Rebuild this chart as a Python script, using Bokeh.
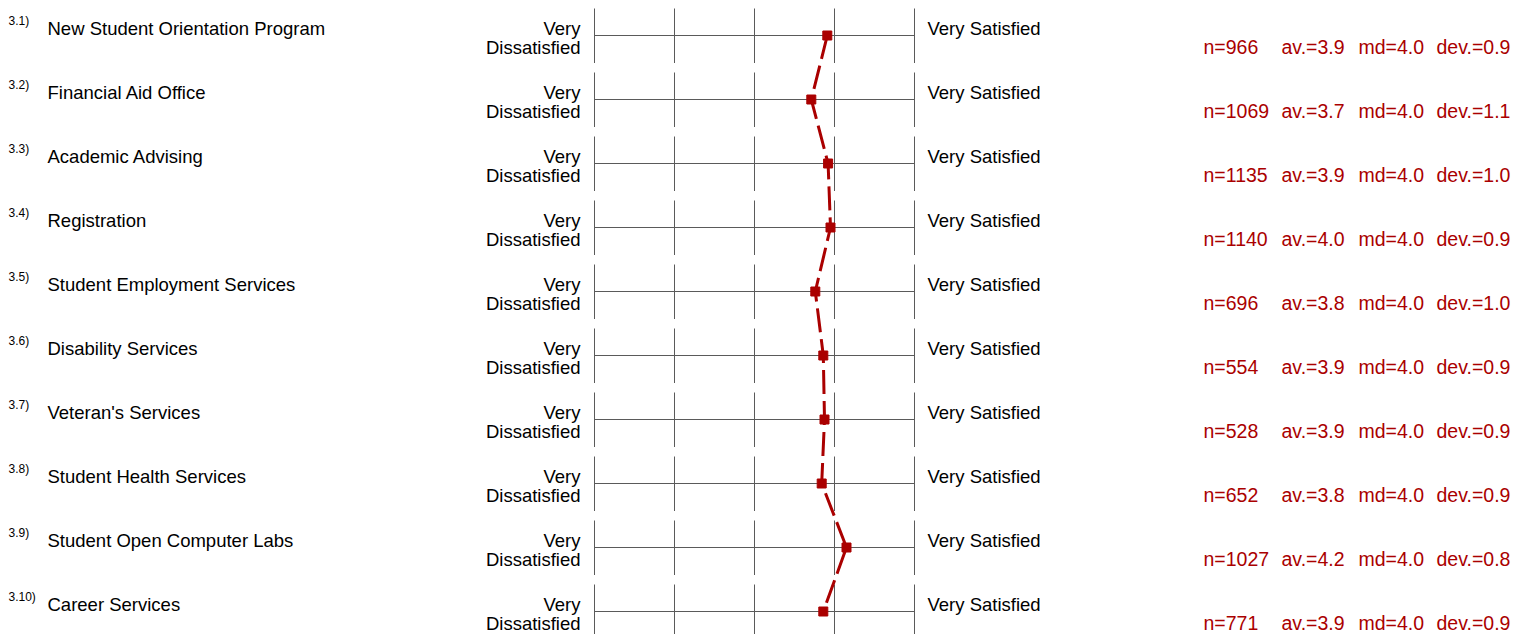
from bokeh.plotting import figure
from bokeh.models import Range1d
from bokeh.embed import file_html
from bokeh.resources import INLINE
from bokeh.core.properties import value

# ---------------- data ----------------
numbers = ["3.1)", "3.2)", "3.3)", "3.4)", "3.5)", "3.6)", "3.7)", "3.8)", "3.9)", "3.10)"]
questions = [
    "New Student Orientation Program",
    "Financial Aid Office",
    "Academic Advising",
    "Registration",
    "Student Employment Services",
    "Disability Services",
    "Veteran's Services",
    "Student Health Services",
    "Student Open Computer Labs",
    "Career Services",
]
left_pole = ["Very", "Dissatisfied"]
right_pole = "Very Satisfied"
scale_points = [1, 2, 3, 4, 5]
mean_positions = [3.91, 3.71, 3.92, 3.95, 3.76, 3.86, 3.875, 3.84, 4.15, 3.86]
n_values = [966, 1069, 1135, 1140, 696, 554, 528, 652, 1027, 771]
av_values = [3.9, 3.7, 3.9, 4.0, 3.8, 3.9, 3.9, 3.8, 4.2, 3.9]
md_values = [4.0, 4.0, 4.0, 4.0, 4.0, 4.0, 4.0, 4.0, 4.0, 4.0]
dev_values = [0.9, 1.1, 1.0, 0.9, 1.0, 0.9, 0.9, 0.9, 0.8, 0.9]

# ---------------- layout helpers ----------------
W, H = 1524, 634
PX_PER_UNIT = 80.0      # pixels per scale step
X1_PX = 594.0           # x of scale point 1
ROW_H = 64.0
ROW0_PX = 35.0          # y of first row centre


def px2x(px):
    return 1 + (px - X1_PX) / PX_PER_UNIT


def dy(py):
    return py / ROW_H


rows = list(range(len(questions)))
FONT = value("Liberation Sans")
RED = "#aa0000"

p = figure(
    width=W, height=H,
    x_range=Range1d(px2x(0), px2x(W)),
    y_range=Range1d((H - ROW0_PX) / ROW_H, (0 - ROW0_PX) / ROW_H),
    output_backend="svg", toolbar_location=None, min_border=0,
)
p.axis.visible = False
p.grid.visible = False
p.outline_line_color = None
p.background_fill_color = "white"
p.border_fill_color = "white"

# grid: vertical ticks per row and horizontal scale line
vx, vy0, vy1 = [], [], []
for i in rows:
    for s in scale_points:
        vx.append(s)
        vy0.append(i - dy(27))
        vy1.append(i + dy(27.5))
p.segment(x0=vx, y0=vy0, x1=vx, y1=vy1, line_color="#5a5a5a", line_width=1)
p.segment(x0=[scale_points[0]] * len(rows), y0=rows,
          x1=[scale_points[-1]] * len(rows), y1=rows,
          line_color="#5a5a5a", line_width=1)

# profile line
p.line(x=mean_positions, y=rows, line_color=RED, line_width=3, line_dash="24 7")
p.scatter(x=mean_positions, y=rows, marker="square", size=9,
          fill_color=RED, line_color=RED)

# texts
def add_text(xs, ys, texts, size, color="#000000", align="left"):
    p.text(x=xs, y=ys, text=texts, text_font=FONT, text_font_size=size,
           text_color=color, text_align=align, text_baseline="alphabetic")

SH = 7  # vertical correction (px upward)
add_text([px2x(8)] * len(rows), [i - dy(8 + SH) for i in rows], numbers, "12px")
add_text([px2x(47)] * len(rows), [i - dy(0.5 + SH) for i in rows], questions, "18.5px")
add_text([px2x(580)] * len(rows), [i - dy(0.5 + SH) for i in rows], [left_pole[0]] * len(rows), "18.5px", align="right")
add_text([px2x(580)] * len(rows), [i + dy(18.5 - SH) for i in rows], [left_pole[1]] * len(rows), "18.5px", align="right")
add_text([px2x(927)] * len(rows), [i - dy(0.5 + SH) for i in rows], [right_pole] * len(rows), "18.5px")

stat_y = [i + dy(18 - SH) for i in rows]
add_text([px2x(1203)] * len(rows), stat_y, [f"n={n}" for n in n_values], "19.5px", RED)
add_text([px2x(1281)] * len(rows), stat_y, [f"av.={v:.1f}" for v in av_values], "19.5px", RED)
add_text([px2x(1358)] * len(rows), stat_y, [f"md={v:.1f}" for v in md_values], "19.5px", RED)
add_text([px2x(1436)] * len(rows), stat_y, [f"dev.={v:.1f}" for v in dev_values], "19.5px", RED)

open("out.html", "w").write(file_html(p, INLINE))
